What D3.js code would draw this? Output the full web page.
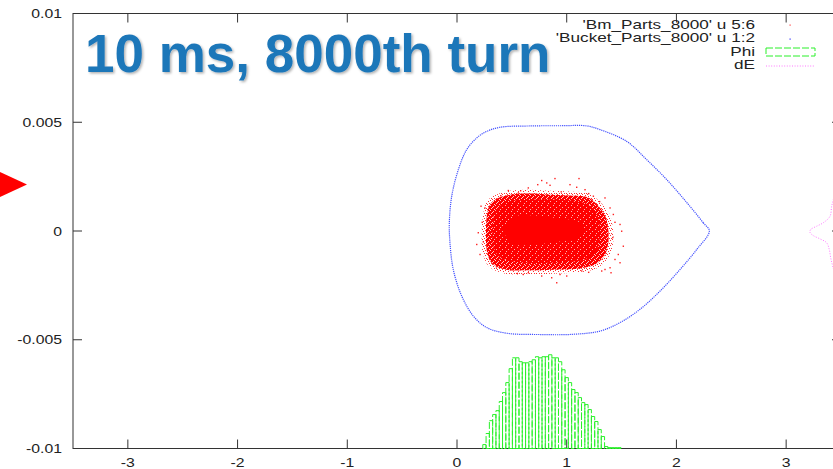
<!DOCTYPE html>
<html><head><meta charset="utf-8">
<script src="https://cdn.jsdelivr.net/npm/d3@7"></script>
<style>body{margin:0;background:#fff;overflow:hidden} svg{display:block;font-family:"Liberation Sans",Arial,sans-serif;}</style>
</head><body><svg id="c" width="833" height="469"></svg>
<script>
// ---------- data ----------
const xTicks = [-3, -2, -1, 0, 1, 2, 3];
const yTicks = [0.01, 0.005, 0, -0.005, -0.01];
const yTickLabels = ["0.01", "0.005", "0", "-0.005", "-0.01"];
const titleText = "10 ms, 8000th turn";
const legendLabels = ["'Bm_Parts_8000' u 5:6", "'Bucket_Parts_8000' u 1:2", "Phi", "dE"];

// separatrix ('Bucket_Parts_8000'), [phi, dE x1e-3]
const bucket = [
  [2.30,0.00],[2.245,0.376],[2.094,1.31],[1.912,2.36],[1.729,3.28],[1.547,4.12],[1.304,4.66],
  [1.185,4.83],[0.939,4.84],[0.665,4.83],[0.392,4.77],[0.271,4.58],[0.180,4.28],[0.088,3.74],
  [0.012,2.82],[-0.048,1.60],[-0.070,0.376],[-0.064,-0.54],[-0.034,-1.77],[0.043,-2.99],
  [0.149,-3.91],[0.271,-4.44],[0.453,-4.70],[0.757,-4.76],[1.057,-4.75],[1.304,-4.60],
  [1.486,-4.21],[1.668,-3.60],[1.851,-2.76],[2.033,-1.77],[2.185,-0.85]
];

// beam particle cloud ('Bm_Parts_8000'): density contours [phi, dE x1e-3]
const bunchFringe = [
  [0.24,0.80],[0.27,1.35],[0.35,1.65],[0.48,1.85],[0.665,1.90],[0.85,1.85],[1.03,1.82],
  [1.20,1.72],[1.31,1.30],[1.39,0.78],[1.42,0.16],[1.42,-0.66],[1.37,-1.28],[1.28,-1.70],
  [1.12,-1.90],[0.94,-1.95],[0.665,-1.98],[0.43,-1.95],[0.29,-1.62],[0.235,-1.00],[0.225,-0.16]
];
const bunchHalo = [
  [0.273,0.76],[0.301,1.22],[0.365,1.49],[0.483,1.67],[0.665,1.72],[0.848,1.67],[1.030,1.63],
  [1.194,1.54],[1.285,1.17],[1.349,0.71],[1.377,0.16],[1.377,-0.62],[1.340,-1.17],[1.258,-1.54],
  [1.121,-1.72],[0.939,-1.77],[0.665,-1.81],[0.438,-1.77],[0.319,-1.49],[0.273,-0.94],[0.264,-0.16]
];
const bunchBody = [
  [0.346,0.89],[0.438,1.31],[0.665,1.44],[1.030,1.40],[1.212,1.17],[1.285,0.62],[1.304,-0.02],
  [1.276,-0.85],[1.167,-1.31],[0.939,-1.44],[0.574,-1.44],[0.392,-1.22],[0.328,-0.62],[0.328,0.30]
];
const bunchCore = [
  [0.447,0.30],[0.529,0.67],[0.711,0.71],[0.939,0.57],[1.103,0.44],[1.158,0.07],[1.121,-0.30],
  [0.939,-0.48],[0.711,-0.62],[0.529,-0.62],[0.447,-0.30]
];
const bunchOutliers = [
  [0.893,2.41],[0.772,2.32],[0.818,2.21],[0.848,2.10],[0.650,1.98],[0.736,2.13],[0.468,1.86],
  [0.559,1.75],[0.219,1.14],[0.255,1.06],[0.194,-0.08],[0.180,-0.62],[0.210,-1.08],[0.604,-2.00],
  [0.650,-1.92],[0.772,-2.07],[0.863,-2.15],[0.939,-2.00],[0.909,-2.38],[0.499,-1.77],[1.112,2.41],
  [1.030,2.13],[1.091,2.01],[1.167,1.90],[1.243,1.60],[1.349,1.52],[1.395,1.06],[1.425,0.76],
  [1.486,0.30],[1.501,-0.01],[1.516,-0.70],[1.470,-1.08],[1.440,-1.31],[1.486,-1.46],[1.395,-1.69],
  [1.404,-1.92],[1.319,-1.84],[1.137,-1.84],[1.000,-2.07],[1.349,-1.77],
  [0.40,1.62],[0.58,1.85],[0.95,1.80],[1.20,1.72],[1.30,1.35],[0.30,-1.30],[0.36,-1.65],
  [0.55,-1.95],[1.20,-1.90],[1.42,-0.30],[1.44,0.40],[0.23,0.40],[0.24,-0.50]
];

// Phi histogram: bin centres (rad) and heights (x1e-4 above -0.01)
const phiBins = [0.25,0.28,0.31,0.34,0.37,0.40,0.43,0.46,0.49,0.52,0.55,0.58,0.61,0.64,0.67,0.70,
  0.73,0.76,0.79,0.82,0.85,0.88,0.91,0.94,0.97,1.00,1.03,1.06,1.09,1.12,1.15,1.18,1.21,1.24,1.27,
  1.30,1.33,1.36,1.39,1.42,1.45,1.48];
const phiCounts = [1.8,6.9,12.8,15.6,17.4,21.6,25.7,30.3,36.7,41.7,41.7,39.9,39.4,39.4,39.9,40.8,
  42.2,41.7,42.2,42.2,43.1,41.7,41.7,39.9,36.2,32.6,30.3,27.1,25.7,23.4,21.1,20.2,17.9,14.7,12.4,
  8.7,5.5,0.9,0.4,0.4,0.4,0.4];
const phiBinWidth = 0.03;

// dE histogram (drawn sideways from right border): dE x1e-3, extent in phi units
const dEBins = [3.0,2.4,1.9,1.44,1.14,0.68,0.38,0.22,0.07,-0.06,-0.21,-0.36,-0.54,-0.85,-1.23,-1.61,-2.1,-2.6];
const dECounts = [0.01,0.03,0.05,0.070,0.085,0.100,0.161,0.222,0.276,0.283,0.253,0.192,0.131,0.107,0.094,0.076,0.05,0.03];

// ---------- drawing ----------
const svg = d3.select("#c");
const defs = svg.append("defs");
const x = d3.scaleLinear().domain([-3.5, 3.5]).range([73, 841]);
const y = d3.scaleLinear().domain([-0.01, 0.01]).range([448.5, 13.5]);
const px = d => x(d[0]), py = d => y(d[1] * 1e-3);
const ink = "#222";

function txt(g, xx, yy, s, anchor, size, sx) {
  return g.append("text").attr("transform", `translate(${xx},${yy}) scale(${sx || 1.17},1)`)
    .attr("text-anchor", anchor).attr("font-size", size || 13.5).attr("fill", ink).text(s);
}

// speckle textures for the particle cloud
function speck(id, tile, bg, dots, col) {
  const p = defs.append("pattern").attr("id", id).attr("patternUnits", "userSpaceOnUse")
    .attr("width", tile).attr("height", tile);
  if (bg) p.append("rect").attr("width", tile).attr("height", tile).attr("fill", bg);
  dots.forEach(d => p.append("rect").attr("x", d[0]).attr("y", d[1]).attr("width", 1).attr("height", 1).attr("fill", col));
}
speck("spF", 5, null, [[0,0],[3,1],[1,3],[4,3],[2,4]], "#ff3030");
speck("spA", 5, "#ff0000", [[0,0],[3,1],[1,3],[4,4],[2,2]], "#ffc8c8");
speck("spB", 6, "#ff0000", [[1,1],[4,3],[2,5]], "#ffb0b0");

// red triangle decoration
svg.append("path").attr("d", "M-2,171L27,184.5L-2,198Z").attr("fill", "#ff0000");

// frame
const L = x.range()[0], R = x.range()[1], T = y.range()[1], B = y.range()[0];
svg.append("rect").attr("x", L).attr("y", T).attr("width", R - L).attr("height", B - T)
  .attr("fill", "none").attr("stroke", "#333").attr("stroke-width", 1);
const tk = 9;
xTicks.forEach(v => {
  svg.append("line").attr("x1", x(v)).attr("x2", x(v)).attr("y1", B).attr("y2", B - tk).attr("stroke", "#333");
  svg.append("line").attr("x1", x(v)).attr("x2", x(v)).attr("y1", T).attr("y2", T + tk).attr("stroke", "#333");
  txt(svg, x(v), 467, String(v), "middle");
});
yTicks.forEach((v, i) => {
  svg.append("line").attr("x1", L).attr("x2", L + tk).attr("y1", y(v)).attr("y2", y(v)).attr("stroke", "#333");
  svg.append("line").attr("x1", R).attr("x2", R - tk).attr("y1", y(v)).attr("y2", y(v)).attr("stroke", "#333");
  txt(svg, 62, y(v) + 4.5, yTickLabels[i], "end");
});

// Phi histogram
const hg = svg.append("g");
phiBins.forEach((c, i) => {
  hg.append("rect").attr("x", x(c - phiBinWidth / 2)).attr("width", x(c + phiBinWidth / 2) - x(c - phiBinWidth / 2))
    .attr("y", y(-0.01 + phiCounts[i] * 1e-4)).attr("height", y(-0.01) - y(-0.01 + phiCounts[i] * 1e-4))
    .attr("fill", "none").attr("stroke", "#2af02a").attr("stroke-width", 1).attr("stroke-dasharray", "7,2");
});

// dE histogram sideways
const dLine = d3.line().x((d, i) => x(3.5 - dECounts[i])).y(d => y(d * 1e-3)).curve(d3.curveCatmullRom);
svg.append("path").attr("d", dLine(dEBins)).attr("fill", "none").attr("stroke", "#ff77ff")
  .attr("stroke-width", 1).attr("stroke-dasharray", "1,1.6");

// separatrix
const closed = d3.line().x(px).y(py).curve(d3.curveCatmullRomClosed);
svg.append("path").attr("d", closed(bucket)).attr("fill", "none").attr("stroke", "#2233ff")
  .attr("stroke-width", 1.2).attr("stroke-dasharray", "1.2,0.9").attr("opacity", 0.85);

// bunch
svg.append("path").attr("d", closed(bunchFringe)).attr("fill", "url(#spF)");
svg.append("path").attr("d", closed(bunchHalo)).attr("fill", "url(#spA)");
svg.append("path").attr("d", closed(bunchBody)).attr("fill", "url(#spB)");
svg.append("path").attr("d", closed(bunchCore)).attr("fill", "#ff0000");
svg.selectAll(".o").data(bunchOutliers).join("rect").attr("x", d => px(d) - 0.7).attr("y", d => py(d) - 0.7)
  .attr("width", 1.4).attr("height", 1.4).attr("fill", "#ff2020");

// legend
const lg = svg.append("g");
const ly = [28.5, 42, 55.5, 69];
legendLabels.forEach((s, i) => txt(lg, 755, ly[i], s, "end", 13, 1.32));
lg.append("rect").attr("x", 789.5).attr("y", 24.5).attr("width", 1.2).attr("height", 1.2).attr("fill", "#ff4040");
lg.append("rect").attr("x", 789.5).attr("y", 38.5).attr("width", 1.2).attr("height", 1.2).attr("fill", "#3030ff");
lg.append("rect").attr("x", 766).attr("y", 48).attr("width", 49).attr("height", 8).attr("fill", "none")
  .attr("stroke", "#2af02a").attr("stroke-dasharray", "7,2");
lg.append("line").attr("x1", 766).attr("x2", 814).attr("y1", 66).attr("y2", 66).attr("stroke", "#ff77ff")
  .attr("stroke-dasharray", "1,1.6");

// title
const f = defs.append("filter").attr("id", "sh").attr("x", "-5%").attr("y", "-20%").attr("width", "115%").attr("height", "150%");
f.append("feDropShadow").attr("dx", 1.5).attr("dy", 1.5).attr("stdDeviation", 1).attr("flood-color", "#000").attr("flood-opacity", 0.3);
svg.append("text").attr("x", 85).attr("y", 72).attr("font-size", 53).attr("font-weight", "bold")
  .attr("fill", "#1f77b9").attr("filter", "url(#sh)").text(titleText);
</script></body></html>
